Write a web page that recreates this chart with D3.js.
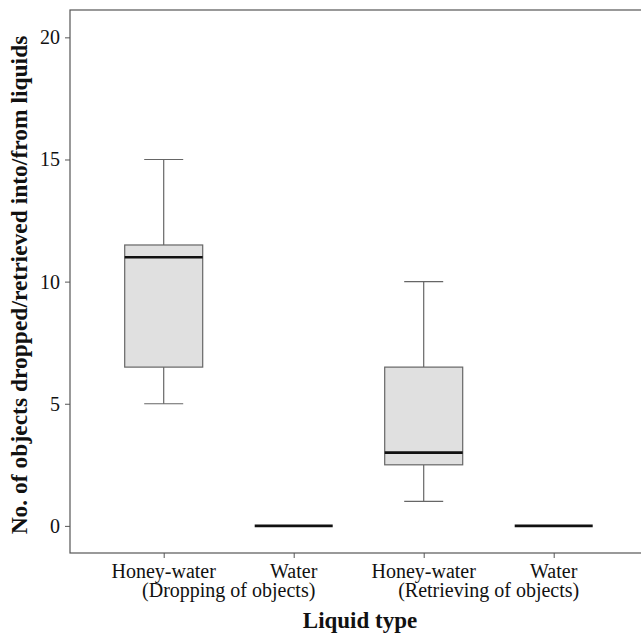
<!DOCTYPE html>
<html>
<head>
<meta charset="utf-8">
<script src="https://cdn.jsdelivr.net/npm/d3@7"></script>
<style>
  body { margin: 0; background: #fff; }
  text { font-family: "Liberation Serif", "Times New Roman", serif; }
</style>
</head>
<body>
<svg width="641" height="636"></svg>
<script>
// categories and box statistics
var groups = ["Honey-water D", "Water D", "Honey-water R", "Water R"];
var groupLabels = ["Honey-water", "Water", "Honey-water", "Water"];
var conditionLabels = ["(Dropping of objects)", "(Retrieving of objects)"];
var whiskerLow = [5, 0, 1, 0];
var q1 = [6.5, 0, 2.5, 0];
var median = [11, 0, 3, 0];
var q3 = [11.5, 0, 6.5, 0];
var whiskerHigh = [15, 0, 10, 0];
var yTicks = [0, 5, 10, 15, 20];

var svg = d3.select('svg');

// panel edges (the panel runs off the right side like the original)
var padL = 70, padT = 10, padB = 553, padR = 652;

var scaleX = d3.scalePoint().domain(groups).range([163.7, 553.7]);
var step = scaleX.step();
var scaleY = d3.scaleLinear().domain([-1.11, 21.12]).range([padB, padT]);

var boxW = step * 0.6, capW = step * 0.3;

var boxes = groups.map(function(g, i){
    return {g: g, lo: whiskerLow[i], q1: q1[i], med: median[i], q3: q3[i], hi: whiskerHigh[i]};
});

// panel border
svg.append('rect')
    .attr('x', padL).attr('y', padT)
    .attr('width', padR - padL).attr('height', padB - padT)
    .attr('fill', 'none')
    .attr('stroke', '#555')
    .attr('stroke-width', 1.2);

// y axis
var yAxis = svg.append('g')
    .attr('transform', 'translate(' + padL + ',0)')
    .call(d3.axisLeft(scaleY).tickValues(yTicks).tickSize(5).tickPadding(5));
yAxis.select('.domain').remove();
yAxis.selectAll('line').attr('stroke', '#555');
yAxis.selectAll('text').attr('font-size', 20).attr('fill', '#111')
    .style('font-family', '"Liberation Serif", serif');

// x axis ticks, labels are written below as two-line blocks
var xAxis = svg.append('g')
    .attr('transform', 'translate(0,' + padB + ')')
    .call(d3.axisBottom(scaleX).tickSize(5).tickFormat(''));
xAxis.select('.domain').remove();
xAxis.selectAll('line').attr('stroke', '#555');

// each condition: two group names on the first line, condition centred under them
conditionLabels.forEach(function(lab, i){
    var a = scaleX(groups[i * 2]), b = scaleX(groups[i * 2 + 1]);
    var t = svg.append('text')
        .attr('y', 578)
        .attr('text-anchor', 'middle')
        .attr('font-size', 20)
        .attr('fill', '#111');
    t.append('tspan').attr('x', a).text(groupLabels[i * 2]);
    t.append('tspan').attr('x', b).text(groupLabels[i * 2 + 1]);
    t.append('tspan').attr('x', (a + b) / 2).attr('dy', 19).text(lab);
});

// boxes
var g = svg.append('g');

g.selectAll('.whisker')
    .data(boxes.filter(function(d){ return d.hi > d.lo; }))
    .enter()
    .append('g')
    .each(function(d){
        var sel = d3.select(this), x = scaleX(d.g);
        sel.append('line').attr('x1', x).attr('x2', x)
            .attr('y1', scaleY(d.hi)).attr('y2', scaleY(d.q3));
        sel.append('line').attr('x1', x).attr('x2', x)
            .attr('y1', scaleY(d.q1)).attr('y2', scaleY(d.lo));
        sel.append('line').attr('x1', x - capW / 2).attr('x2', x + capW / 2)
            .attr('y1', scaleY(d.hi)).attr('y2', scaleY(d.hi));
        sel.append('line').attr('x1', x - capW / 2).attr('x2', x + capW / 2)
            .attr('y1', scaleY(d.lo)).attr('y2', scaleY(d.lo));
    })
    .selectAll('line')
    .attr('stroke', '#666')
    .attr('stroke-width', 1.2);

g.selectAll('.box')
    .data(boxes.filter(function(d){ return d.q3 > d.q1; }))
    .enter()
    .append('rect')
    .attr('x', function(d){ return scaleX(d.g) - boxW / 2; })
    .attr('y', function(d){ return scaleY(d.q3); })
    .attr('width', boxW)
    .attr('height', function(d){ return scaleY(d.q1) - scaleY(d.q3); })
    .attr('fill', '#e0e0e0')
    .attr('stroke', '#666')
    .attr('stroke-width', 1.2);

g.selectAll('.median')
    .data(boxes)
    .enter()
    .append('line')
    .attr('x1', function(d){ return scaleX(d.g) - boxW / 2; })
    .attr('x2', function(d){ return scaleX(d.g) + boxW / 2; })
    .attr('y1', function(d){ return scaleY(d.med); })
    .attr('y2', function(d){ return scaleY(d.med); })
    .attr('stroke', '#111')
    .attr('stroke-width', 2.6);

// axis titles
svg.append('text')
    .text('Liquid type')
    .attr('x', 360).attr('y', 628)
    .attr('text-anchor', 'middle')
    .attr('font-size', 23)
    .attr('font-weight', 'bold')
    .attr('fill', '#111');

svg.append('text')
    .text('No. of objects dropped/retrieved into/from liquids')
    .attr('transform', 'translate(27,285)rotate(-90)')
    .attr('text-anchor', 'middle')
    .attr('font-size', 23.5)
    .attr('font-weight', 'bold')
    .attr('fill', '#111');
</script>
</body>
</html>
